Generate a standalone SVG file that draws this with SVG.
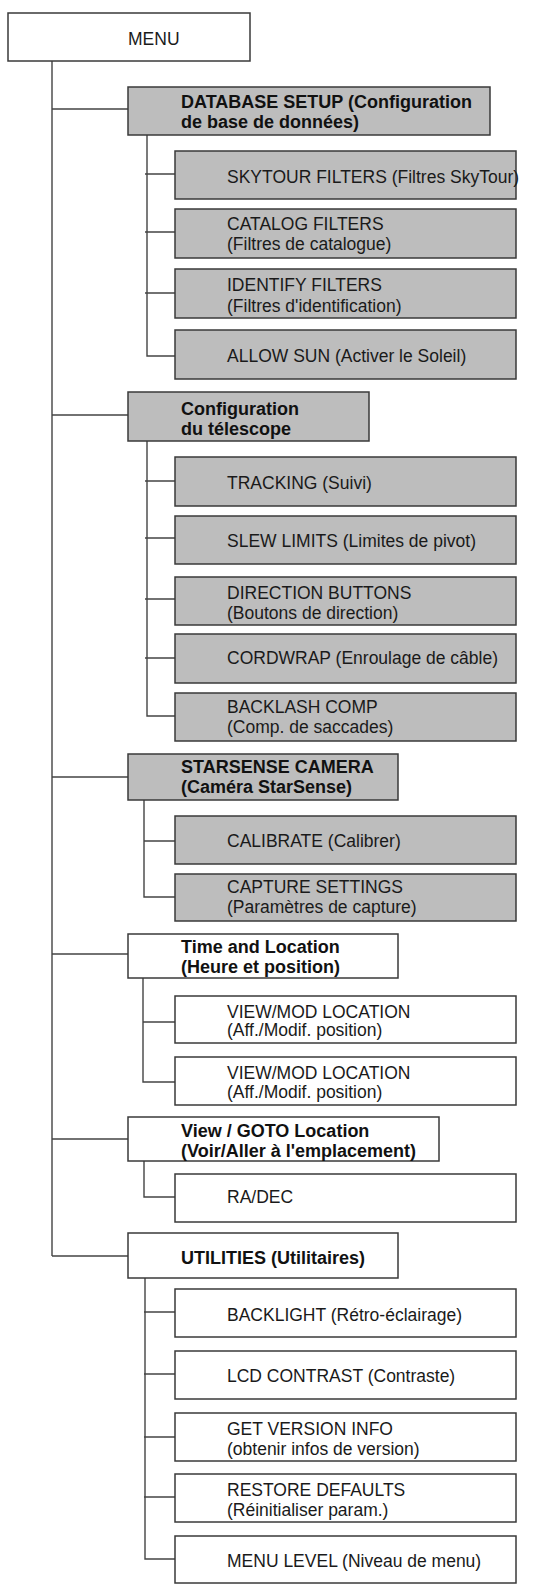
<svg xmlns="http://www.w3.org/2000/svg" width="554" height="1587" viewBox="0 0 554 1587">
<style>
.box{stroke:#3a3a3a;stroke-width:1.5}
.g{fill:#bdbdbd}
.w{fill:#ffffff}
.t{font-family:"Liberation Sans",Arial,sans-serif;font-size:17.5px;fill:#1a1a1a}
.b{font-family:"Liberation Sans",Arial,sans-serif;font-size:18px;font-weight:bold;fill:#111}
.c{fill:none;stroke:#444;stroke-width:1.4}
</style>
<rect x="0" y="0" width="554" height="1587" fill="#ffffff"/>
<g id="connectors" class="c">
<path d="M52 61 V1256 M52 109 H128 M52 415 H128 M52 777 H128 M52 954 H128 M52 1139 H128 M52 1256 H128"/>
<path d="M147 135 V356 H175 M145 174 H175 M145 232 H175 M145 293 H175"/>
<path d="M147 441 V716 H175 M145 481 H175 M145 538 H175 M145 599 H175 M145 658 H175"/>
<path d="M144 800 V897 H175 M144 841 H175"/>
<path d="M143 978 V1082 H175 M143 1022 H175"/>
<path d="M144 1161 V1197 H175"/>
<path d="M145 1278 V1559 H175 M144 1312 H175 M144 1374 H175 M144 1437 H175 M144 1497 H175"/>
</g>
<g id="menu"><rect class="box w" x="8" y="13" width="242" height="48"/><text class="t" x="128" y="45">MENU</text></g>
<g id="database-setup"><rect class="box g" x="128" y="87" width="362" height="48"/><text class="b" x="181" y="108">DATABASE SETUP (Configuration</text><text class="b" x="181" y="128">de base de données)</text></g>
<g id="skytour-filters"><rect class="box g" x="175" y="151" width="341" height="48"/><text class="t" x="227" y="183">SKYTOUR FILTERS (Filtres SkyTour)</text></g>
<g id="catalog-filters"><rect class="box g" x="175" y="209" width="341" height="49"/><text class="t" x="227" y="230">CATALOG FILTERS</text><text class="t" x="227" y="250">(Filtres de catalogue)</text></g>
<g id="identify-filters"><rect class="box g" x="175" y="269" width="341" height="49"/><text class="t" x="227" y="291">IDENTIFY FILTERS</text><text class="t" x="227" y="312">(Filtres d'identification)</text></g>
<g id="allow-sun"><rect class="box g" x="175" y="330" width="341" height="49"/><text class="t" x="227" y="362">ALLOW SUN (Activer le Soleil)</text></g>
<g id="telescope-config"><rect class="box g" x="128" y="392" width="241" height="49"/><text class="b" x="181" y="415">Configuration</text><text class="b" x="181" y="435">du télescope</text></g>
<g id="tracking"><rect class="box g" x="175" y="457" width="341" height="49"/><text class="t" x="227" y="489">TRACKING (Suivi)</text></g>
<g id="slew-limits"><rect class="box g" x="175" y="516" width="341" height="48"/><text class="t" x="227" y="547">SLEW LIMITS (Limites de pivot)</text></g>
<g id="direction-buttons"><rect class="box g" x="175" y="577" width="341" height="48"/><text class="t" x="227" y="599">DIRECTION BUTTONS</text><text class="t" x="227" y="619">(Boutons de direction)</text></g>
<g id="cordwrap"><rect class="box g" x="175" y="634" width="341" height="49"/><text class="t" x="227" y="664">CORDWRAP (Enroulage de câble)</text></g>
<g id="backlash-comp"><rect class="box g" x="175" y="693" width="341" height="48"/><text class="t" x="227" y="713">BACKLASH COMP</text><text class="t" x="227" y="733">(Comp. de saccades)</text></g>
<g id="starsense-camera"><rect class="box g" x="128" y="754" width="270" height="46"/><text class="b" x="181" y="773">STARSENSE CAMERA</text><text class="b" x="181" y="793">(Caméra StarSense)</text></g>
<g id="calibrate"><rect class="box g" x="175" y="816" width="341" height="48"/><text class="t" x="227" y="847">CALIBRATE (Calibrer)</text></g>
<g id="capture-settings"><rect class="box g" x="175" y="874" width="341" height="47"/><text class="t" x="227" y="893">CAPTURE SETTINGS</text><text class="t" x="227" y="913">(Paramètres de capture)</text></g>
<g id="time-location"><rect class="box w" x="128" y="934" width="270" height="44"/><text class="b" x="181" y="953">Time and Location</text><text class="b" x="181" y="973">(Heure et position)</text></g>
<g id="view-mod-location-1"><rect class="box w" x="175" y="996" width="341" height="47"/><text class="t" x="227" y="1018">VIEW/MOD LOCATION</text><text class="t" x="227" y="1036">(Aff./Modif. position)</text></g>
<g id="view-mod-location-2"><rect class="box w" x="175" y="1057" width="341" height="48"/><text class="t" x="227" y="1079">VIEW/MOD LOCATION</text><text class="t" x="227" y="1098">(Aff./Modif. position)</text></g>
<g id="view-goto-location"><rect class="box w" x="128" y="1117" width="311" height="44"/><text class="b" x="181" y="1137">View / GOTO Location</text><text class="b" x="181" y="1157">(Voir/Aller à l'emplacement)</text></g>
<g id="ra-dec"><rect class="box w" x="175" y="1174" width="341" height="48"/><text class="t" x="227" y="1203">RA/DEC</text></g>
<g id="utilities"><rect class="box w" x="128" y="1233" width="270" height="45"/><text class="b" x="181" y="1264">UTILITIES (Utilitaires)</text></g>
<g id="backlight"><rect class="box w" x="175" y="1289" width="341" height="48"/><text class="t" x="227" y="1321">BACKLIGHT (Rétro-éclairage)</text></g>
<g id="lcd-contrast"><rect class="box w" x="175" y="1351" width="341" height="48"/><text class="t" x="227" y="1382">LCD CONTRAST (Contraste)</text></g>
<g id="get-version-info"><rect class="box w" x="175" y="1413" width="341" height="48"/><text class="t" x="227" y="1435">GET VERSION INFO</text><text class="t" x="227" y="1455">(obtenir infos de version)</text></g>
<g id="restore-defaults"><rect class="box w" x="175" y="1474" width="341" height="48"/><text class="t" x="227" y="1496">RESTORE DEFAULTS</text><text class="t" x="227" y="1516">(Réinitialiser param.)</text></g>
<g id="menu-level"><rect class="box w" x="175" y="1536" width="341" height="47"/><text class="t" x="227" y="1567">MENU LEVEL (Niveau de menu)</text></g>
</svg>
